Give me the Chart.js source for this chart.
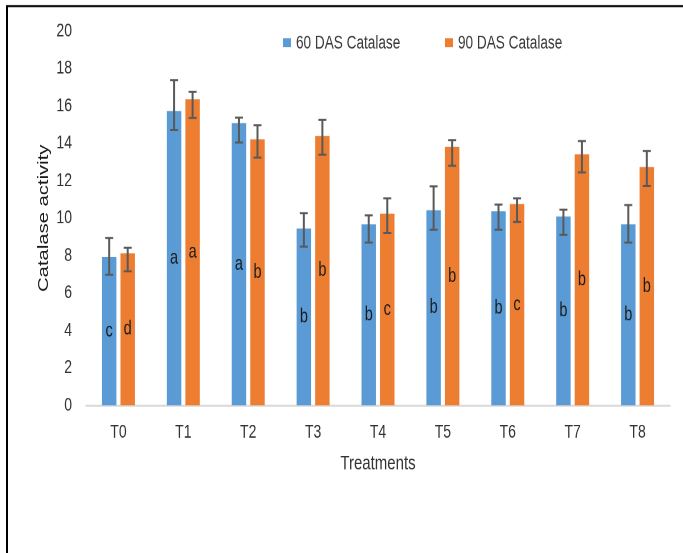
<!DOCTYPE html>
<html><head><meta charset="utf-8">
<script src="https://cdn.jsdelivr.net/npm/chart.js@4/dist/chart.umd.min.js"></script>
<style>
html,body{margin:0;padding:0;background:#fff;overflow:hidden}
#page{width:683px;height:553px;position:relative;overflow:hidden;background:#fff}
#wrap{width:683px;height:410px;position:absolute;left:0;top:0;transform-origin:0 0;transform:scaleY(1.34878)}
</style>
</head><body><div id="page"><div id="wrap"><canvas id="c" width="683" height="410"></canvas></div></div>
<script>
const categories = ['T0','T1','T2','T3','T4','T5','T6','T7','T8'];
const seriesNames = ['60 DAS Catalase','90 DAS Catalase'];
const values60 = [7.93,15.72,15.08,9.45,9.68,10.43,10.37,10.09,9.68];
const values90 = [8.13,16.35,14.22,14.39,10.25,13.81,10.76,13.42,12.73];
const err60High = [8.95,17.38,15.38,10.27,10.16,11.71,10.73,10.45,10.71];
const err60Low  = [6.99,14.72,14.05,8.48,8.70,9.39,9.39,9.11,8.70];
const err90High = [8.43,16.75,14.97,15.26,11.07,14.17,11.07,14.12,13.60];
const err90Low  = [7.17,15.36,13.24,13.40,9.21,12.80,9.80,12.44,11.73];
const letters60 = ['c','a','a','b','b','b','b','b','b'];
const letters90 = ['d','a','b','b','c','b','c','b','b'];
const yTicks = [0,2,4,6,8,10,12,14,16,18,20];

const SANS = "'Liberation Sans',Arial,sans-serif";
const errHigh = [err60High, err90High];
const errLow = [err60Low, err90Low];
const letters = [letters60, letters90];

const framePlugin = {
  id: 'frame',
  beforeDraw(chart) {
    const ctx = chart.ctx;
    ctx.save();
    ctx.fillStyle = '#ffffff';
    ctx.fillRect(0, 0, chart.width, chart.height);
    ctx.strokeStyle = '#000000';
    ctx.lineWidth = 2;
    ctx.beginPath();
    ctx.moveTo(7, chart.height); ctx.lineTo(7, 4.5);
    ctx.stroke();
    ctx.lineWidth = 1.5;
    ctx.beginPath();
    ctx.moveTo(6, 4.5); ctx.lineTo(chart.width, 4.5);
    ctx.stroke();
    ctx.restore();
  }
};

const extrasPlugin = {
  id: 'extras',
  afterDatasetsDraw(chart) {
    const ctx = chart.ctx;
    const y = chart.scales.y;
    ctx.save();
    chart.data.datasets.forEach((ds, di) => {
      const meta = chart.getDatasetMeta(di);
      meta.data.forEach((bar, i) => {
        ctx.fillStyle = '#1c1c1c';
        ctx.font = "14.5px " + SANS;
        ctx.textAlign = 'center';
        ctx.textBaseline = 'middle';
        ctx.fillText(letters[di][i], bar.x, (bar.y + bar.base) / 2);
        const yh = y.getPixelForValue(errHigh[di][i]);
        const yl = y.getPixelForValue(errLow[di][i]);
        ctx.strokeStyle = '#595959';
        ctx.lineWidth = 2;
        ctx.beginPath();
        ctx.moveTo(bar.x, yh); ctx.lineTo(bar.x, yl);
        ctx.stroke();
        ctx.lineWidth = 1.5;
        ctx.beginPath();
        ctx.moveTo(bar.x - 4, yh); ctx.lineTo(bar.x + 4, yh);
        ctx.moveTo(bar.x - 4, yl); ctx.lineTo(bar.x + 4, yl);
        ctx.stroke();
      });
    });
    const legendX = [283, 445];
    chart.data.datasets.forEach((ds, di) => {
      ctx.fillStyle = ds.backgroundColor;
      ctx.fillRect(legendX[di], 28.3, 8, 6.7);
      ctx.fillStyle = '#3a3a3a';
      ctx.font = "13.6px " + SANS;
      ctx.textAlign = 'left';
      ctx.textBaseline = 'middle';
      ctx.fillText(ds.label, legendX[di] + 13, 32);
    });
    ctx.restore();
  }
};

new Chart(document.getElementById('c'), {
  type: 'bar',
  data: {
    labels: categories,
    datasets: [
      { label: seriesNames[0], data: values60, backgroundColor: '#5B9BD5', borderWidth: 0,
        categoryPercentage: 0.571, barPercentage: 0.78 },
      { label: seriesNames[1], data: values90, backgroundColor: '#ED7D31', borderWidth: 0,
        categoryPercentage: 0.571, barPercentage: 0.78 }
    ]
  },
  options: {
    responsive: false,
    animation: false,
    devicePixelRatio: 2,
    layout: { padding: { left: 0, top: 23, right: 13, bottom: 0 } },
    plugins: { legend: { display: false }, tooltip: { enabled: false } },
    scales: {
      x: {
        afterFit(scale) { scale.height = 109.4; },
        grid: { display: false, drawTicks: false },
        border: { display: true, color: '#d9d9d9', width: 1.5 },
        ticks: { color: '#333333', padding: 11.5, font: { family: SANS, size: 14 } },
        title: { display: true, text: 'Treatments', color: '#333333', padding: { top: 0, bottom: 57 },
                 font: { family: SANS, size: 15 } }
      },
      y: {
        min: 0, max: 20,
        afterBuildTicks(scale) { scale.ticks = yTicks.map(v => ({ value: v })); },
        afterFit(scale) { scale.width = 86; },
        grid: { display: false, drawTicks: false },
        border: { display: false },
        ticks: { color: '#333333', padding: 14, font: { family: SANS, size: 14 } },
        title: { display: true, text: 'Catalase activity', color: '#1a1a1a', padding: { top: 35, bottom: 0 },
                 font: { family: SANS, size: 15 } }
      }
    }
  },
  plugins: [framePlugin, extrasPlugin]
});
</script></body></html>
